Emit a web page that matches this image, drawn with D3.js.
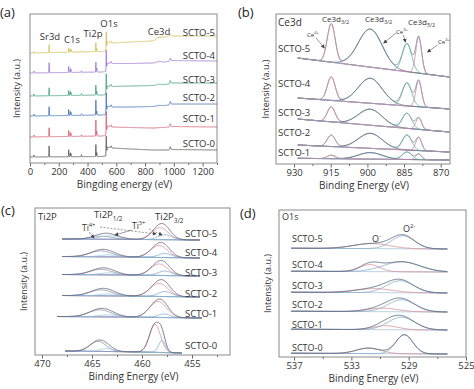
<!DOCTYPE html>
<html lang="en">
<head>
<meta charset="UTF-8" />
<title>SCTO XPS</title>
<script src="https://cdn.jsdelivr.net/npm/d3@7"></script>
<style>
  body { margin: 0; background: #fff; }
  svg { font-family: "Open Sans", sans-serif; }
</style>
</head>
<body>
<svg id="fig" width="474" height="389"></svg>
<script>
// ---------- data (intensity in arbitrary units) ----------
const samples = ["SCTO-0", "SCTO-1", "SCTO-2", "SCTO-3", "SCTO-4", "SCTO-5"];
const surveyColors = ["#555555", "#d65a6e", "#3d6fb5", "#3c9f7c", "#9d72cf", "#d5bb52"];

// (a) survey
const surveyTicks = [0, 200, 400, 600, 800, 1000, 1200];
const surveyMinor = [100, 300, 500, 700, 900, 1100, 1300];
const surveyPeakEV = [28, 133, 269, 280, 285, 358, 458, 464, 530, 564, 885, 902, 916, 975];
const surveyPeakW = [4, 3, 3, 3, 3, 4, 3, 3, 3, 6, 10, 10, 6, 8];
const surveyPeakH = [
  [2, 11, 7, 4, 3, 2, 12, 4, 18, 2, 0, 0, 0, 3],
  [2, 9, 6, 4, 3, 1.5, 16, 5, 22, 2, 0.4, 0.4, 0.3, 3],
  [2, 9, 6, 4, 3, 1.5, 15, 4, 20, 2, 0.6, 0.6, 0.4, 3],
  [2, 8, 5, 4, 3, 1.5, 10, 4, 19, 2, 0.8, 0.8, 0.5, 3],
  [2, 10, 6, 4, 3, 1.5, 10, 4, 20, 2, 1.2, 1.2, 0.8, 3],
  [1.5, 8, 4, 3, 3, 1, 9, 3, 17, 1.5, 2, 2, 1.5, 2]
];
const surveyBase = [6, 26, 47, 67, 90, 110];
const surveyBgEV = [0, 500, 528, 538, 570, 700, 850, 890, 930, 965, 985, 1300];
const surveyBg = [
  [0, 0.5, 1, 10, 9, 8, 7, 7, 7, 7, 7.5, 7],
  [0, 1, 1.5, 11, 10, 9.5, 9, 9, 9.5, 10, 10.5, 10],
  [0, 1, 1.5, 10, 9, 9, 9.5, 10, 10.5, 11, 12, 12],
  [0, 1, 1.5, 10, 9.5, 10, 10.5, 11, 11.5, 12, 13, 13],
  [0, 1, 1.5, 10, 9.5, 9.5, 10, 10.5, 11, 11.5, 12.5, 12],
  [0, 1.5, 2, 11, 10, 11, 12, 14, 16, 16.5, 17, 17]
];

// (b) Ce3d, SCTO-1 .. SCTO-5
const ce3dSamples = ["SCTO-1", "SCTO-2", "SCTO-3", "SCTO-4", "SCTO-5"];
const ce3dTicks = [930, 915, 900, 885, 870];
const ce3dMinor = [922.5, 907.5, 892.5, 877.5];
const ce3dPeakEV = [914.8, 898.8, 883.8, 879.0];
const ce3dFWHM = [3.8, 11.5, 4.5, 2.8];
const ce3dHeights = [
  [3.5, 6.5, 7.5, 5.5],
  [11.5, 15, 15, 13],
  [15, 16, 15, 11.5],
  [23.5, 25, 23, 26],
  [38.5, 38, 28, 36]
];
const ce3dBgLeft = [5.7, 19, 45, 66, 106];
const ce3dBgRight = [4, 12, 32, 55, 87];
const ce3dRange = [928.5, 866.5];

// (c) Ti2p, SCTO-0 .. SCTO-5 ; components: Ti4+ 3/2, Ti3+ 3/2, Ti4+ 1/2, Ti3+ 1/2
const ti2pTicks = [470, 465, 460, 455];
const ti2pMinor = [467.5, 462.5, 457.5, 452.5];
const ti2pCenters = [
  [458.7, 458.0, 464.4, 463.5],
  [458.4, 457.8, 464.2, 463.4],
  [458.3, 457.7, 464.1, 463.3],
  [458.3, 457.7, 464.1, 463.3],
  [458.3, 457.7, 464.1, 463.3],
  [458.2, 457.7, 464.0, 463.2]
];
const ti2pHeights = [
  [28, 12, 10, 3],
  [16, 3.5, 7, 2],
  [13, 5, 6, 2],
  [11.5, 4.5, 5.5, 2],
  [12, 4, 6, 2],
  [12, 5, 3, 3.5]
];
const ti2pFWHM = [
  [1.3, 0.8, 1.9, 1.6],
  [2.0, 1.4, 2.6, 2.2],
  [2.1, 1.6, 2.6, 2.2],
  [2.0, 1.6, 2.6, 2.2],
  [2.0, 1.6, 2.6, 2.2],
  [1.9, 1.6, 2.4, 2.4]
];
const ti2pBase = [2, 37, 58, 79, 97, 115];
const ti2pBgStep = [2, 1.5, 1.5, 1.5, 1.5, 1];
const ti2pRanges = [[467.7, 456], [468.5, 454], [468, 454.2], [468, 454.2], [468, 454.2], [468, 454.2]];

// (d) O1s, SCTO-0 .. SCTO-5 ; components: O2-, O-
const o1sTicks = [537, 533, 529, 525];
const o1sMinor = [535, 531, 527];
const o1sCenters = [[529.3, 531.8], [529.5, 530.6], [529.5, 530.8], [529.6, 531.4], [529.5, 531.7], [529.4, 531.6]];
const o1sHeights = [[19, 5.5], [12.5, 4], [12, 3.5], [12, 4], [10, 7], [13, 5]];
const o1sFWHM = [[1.4, 2.0], [2.2, 2.0], [2.2, 2.5], [2.2, 3.0], [3.0, 1.6], [1.9, 3.0]];
const o1sBase = [3, 27, 45, 64, 85, 108];
const o1sRange = [537.2, 526.3];

// ---------- helpers ----------
const svg = d3.select("#fig");
const LN = 4 * Math.LN2;
function gauss(e, c, h, w) { return h * Math.exp(-LN * (e - c) * (e - c) / (w * w)); }

const defs = svg.append("defs");
defs.append("marker").attr("id", "arr")
  .attr("viewBox", "0 0 6 6").attr("refX", 5).attr("refY", 3)
  .attr("markerWidth", 4).attr("markerHeight", 4)
  .attr("markerUnits", "userSpaceOnUse").attr("orient", "auto")
  .append("path").attr("d", "M0,0L6,3L0,6Z").attr("fill", "#444");

function rich(g, x, y, parts, fs) {
  const t = g.append("text").attr("x", x).attr("y", y)
    .attr("font-size", fs).attr("fill", "#333");
  let shift = 0;
  parts.forEach(([s, m]) => {
    const target = m === "sub" ? fs * 0.3 : m === "sup" ? -fs * 0.45 : 0;
    t.append("tspan").attr("dy", target - shift)
      .attr("font-size", m ? fs * 0.68 : fs).text(s);
    shift = target;
  });
  return t;
}

function makePanel(p) {
  const g = svg.append("g");
  const x = d3.scaleLinear().domain(p.domain).range([p.left, p.right]);
  const y = d3.scaleLinear().domain([0, p.bottom - p.top]).range([p.bottom, p.top]);

  // minor ticks, no labels
  g.append("g").attr("transform", `translate(0,${p.bottom})`)
    .call(d3.axisBottom(x).tickValues(p.minor).tickSize(2).tickFormat(""))
    .call(a => a.select(".domain").remove())
    .call(a => a.selectAll("text").remove())
    .call(a => a.selectAll("line").attr("stroke", "#666"));
  g.append("g").attr("transform", `translate(0,${p.bottom})`)
    .call(d3.axisBottom(x).tickValues(p.ticks).tickSize(3.5).tickPadding(2).tickFormat(d3.format("d")))
    .call(a => a.select(".domain").remove())
    .call(a => a.selectAll("line").attr("stroke", "#666"))
    .call(a => a.selectAll("text").attr("font-size", 9.5)
      .attr("fill", "#333").attr("font-family", "Open Sans"));

  g.append("rect").attr("x", p.left).attr("y", p.top)
    .attr("width", p.right - p.left).attr("height", p.bottom - p.top)
    .attr("fill", "none").attr("stroke", "#8a8a8a").attr("stroke-width", 1);

  g.append("text").attr("x", (p.left + p.right) / 2 + 1).attr("y", p.bottom + 25)
    .attr("text-anchor", "middle").attr("font-size", 10).attr("fill", "#333")
    .text(p.title);
  g.append("text")
    .attr("transform", `translate(${p.ylabX},${(p.top + p.bottom) / 2}) rotate(-90)`)
    .attr("text-anchor", "middle").attr("font-size", 9).attr("fill", "#333")
    .text("Intensity (a.u.)");
  g.append("text").attr("x", p.letterX).attr("y", p.letterY)
    .attr("font-size", 13).attr("fill", "#222").text(p.letter);
  return { g, x, y };
}

function drawCurve(P, grid, fn, color, width) {
  P.g.append("path").datum(grid)
    .attr("fill", "none").attr("stroke", color)
    .attr("stroke-width", width || 0.8).attr("stroke-linejoin", "round")
    .attr("d", d3.line().x(e => P.x(e)).y(e => P.y(fn(e))));
}

function arrow(P, e0, u0, e1, u1, dashed) {
  P.g.append("line")
    .attr("x1", P.x(e0)).attr("y1", P.y(u0)).attr("x2", P.x(e1)).attr("y2", P.y(u1))
    .attr("stroke", "#555").attr("stroke-width", 0.6)
    .attr("stroke-dasharray", dashed ? "2,1.5" : null)
    .attr("marker-end", "url(#arr)");
}

// ---------- (a) survey ----------
const A = makePanel({
  left: 30, right: 217, top: 14, bottom: 163, domain: [0, 1300],
  ticks: surveyTicks, minor: surveyMinor, title: "Bingding energy (eV)",
  ylabX: 20, letter: "(a)", letterX: 0, letterY: 17
});
const surveyGrid = d3.range(0, 1300.5, 1);
samples.forEach((s, i) => {
  const bg = d3.scaleLinear().domain(surveyBgEV).range(surveyBg[i].map(v => v + surveyBase[i]));
  drawCurve(A, surveyGrid,
    e => bg(e) + d3.sum(surveyPeakEV, (c, k) => gauss(e, c, surveyPeakH[i][k], surveyPeakW[k])),
    surveyColors[i], 0.8);
});
const surveyLabelY = [147, 122, 101, 83, 59, 36];
samples.forEach((s, i) => {
  A.g.append("text").attr("x", 215).attr("y", surveyLabelY[i])
    .attr("text-anchor", "end").attr("font-size", 9.5).attr("fill", "#333").text(s);
});
[["Sr3d", 50, 40], ["C1s", 72, 43], ["Ti2p", 93, 37], ["O1s", 109, 27], ["Ce3d", 159, 35]]
  .forEach(([t, x, y]) => {
    A.g.append("text").attr("x", x).attr("y", y).attr("text-anchor", "middle")
      .attr("font-size", 9.5).attr("fill", "#333").text(t);
  });

// ---------- (b) Ce3d ----------
const B = makePanel({
  left: 276, right: 450, top: 14, bottom: 164, domain: [937.4, 866.2],
  ticks: ce3dTicks, minor: ce3dMinor, title: "Binding Energy (eV)",
  ylabX: 269, letter: "(b)", letterX: 238, letterY: 17
});
const ceGrid = d3.range(ce3dRange[1], ce3dRange[0] + 0.01, 0.25);
const ceColors = ["#d88a9c", "#52708a", "#5fb4a4", "#c68cb4"];
ce3dSamples.forEach((s, i) => {
  const bg = d3.scaleLinear().domain(ce3dRange).range([ce3dBgLeft[i], ce3dBgRight[i]]);
  drawCurve(B, ceGrid,
    e => bg(e) + d3.sum(ce3dPeakEV, (c, k) => gauss(e, c, ce3dHeights[i][k], ce3dFWHM[k])),
    "#6b7a8c", 0.7);
  drawCurve(B, ceGrid, e => bg(e), "#7282b6", 0.8);
  ce3dPeakEV.forEach((c, k) => {
    drawCurve(B, ceGrid, e => bg(e) + gauss(e, c, ce3dHeights[i][k], ce3dFWHM[k]), ceColors[k], 0.8);
  });
});
const ceLabelY = [156, 136, 116, 87, 52];
ce3dSamples.forEach((s, i) => {
  B.g.append("text").attr("x", 278).attr("y", ceLabelY[i])
    .attr("font-size", 9.5).attr("fill", "#333").text(s);
});
B.g.append("text").attr("x", 278).attr("y", 26).attr("font-size", 10).attr("fill", "#333").text("Ce3d");
rich(B.g, 322, 22, [["Ce3d", ""], ["3/2", "sub"]], 8);
rich(B.g, 365, 22, [["Ce3d", ""], ["3/2", "sub"]], 8);
rich(B.g, 408, 25, [["Ce3d", ""], ["5/2", "sub"]], 8);
rich(B.g, 307, 37, [["Ce", ""], ["4+", "sup"]], 6);
rich(B.g, 396, 34, [["Ce", ""], ["3+", "sup"]], 6);
rich(B.g, 438, 44, [["Ce", ""], ["4+", "sup"]], 6);
arrow(B, 921.0, 126, 917.6, 116);
arrow(B, 888.3, 131, 893.3, 121);
arrow(B, 885.3, 129, 884.4, 122);
arrow(B, 871.3, 119, 875.4, 112);

// ---------- (c) Ti2p ----------
const C = makePanel({
  left: 35, right: 230, top: 208, bottom: 355, domain: [470.7, 451.2],
  ticks: ti2pTicks, minor: ti2pMinor, title: "Binding Energy (eV)",
  ylabX: 27, letter: "(c)", letterX: 1, letterY: 215
});
const tiColors = ["#d9838f", "#6a9fd4", "#6d8797", "#8cc0dc"];
samples.forEach((s, i) => {
  const r = ti2pRanges[i];
  const grid = d3.range(r[1], r[0] + 0.01, 0.05);
  const bg = d3.scaleLinear().domain([r[0], 461, r[1]])
    .range([ti2pBase[i] + ti2pBgStep[i], ti2pBase[i] + ti2pBgStep[i] * 0.6, ti2pBase[i]]);
  drawCurve(C, grid, e => bg(e), "#8a9cc0", 0.8);
  ti2pCenters[i].forEach((c, k) => {
    drawCurve(C, grid, e => bg(e) + gauss(e, c, ti2pHeights[i][k], ti2pFWHM[i][k]), tiColors[k], 0.7);
  });
  drawCurve(C, grid,
    e => bg(e) + d3.sum(ti2pCenters[i], (c, k) => gauss(e, c, ti2pHeights[i][k], ti2pFWHM[i][k])),
    "#665a78", 0.8);
});
const tiLabelY = [348.5, 316.5, 296.5, 275.5, 255.5, 236.5];
samples.forEach((s, i) => {
  C.g.append("text").attr("x", 185).attr("y", tiLabelY[i])
    .attr("font-size", 9.5).attr("fill", "#333").text(s);
});
C.g.append("text").attr("x", 38).attr("y", 220).attr("font-size", 9.5).attr("fill", "#333").text("Ti2P");
rich(C.g, 94, 218, [["Ti2P", ""], ["1/2", "sub"]], 9.5);
rich(C.g, 155, 220, [["Ti2P", ""], ["3/2", "sub"]], 9.5);
rich(C.g, 82, 231, [["Ti", ""], ["4+", "sup"]], 8.5);
rich(C.g, 132, 229, [["Ti", ""], ["3+", "sup"]], 8.5);
arrow(C, 465.3, 123, 464.8, 117);
arrow(C, 464.2, 128, 458.6, 121, true);
arrow(C, 461.0, 125, 462.7, 120);
arrow(C, 459.3, 126, 458.0, 120, true);

// ---------- (d) O1s ----------
const D = makePanel({
  left: 279, right: 466, top: 210, bottom: 357, domain: [538.05, 525],
  ticks: o1sTicks, minor: o1sMinor, title: "Binding Energy (eV)",
  ylabX: 271, letter: "(d)", letterX: 240, letterY: 218
});
const oGrid = d3.range(o1sRange[1], o1sRange[0] + 0.01, 0.05);
samples.forEach((s, i) => {
  const bg = d3.scaleLinear().domain(o1sRange).range([o1sBase[i] + 0.8, o1sBase[i]]);
  drawCurve(D, oGrid, e => bg(e), "#9cbfd6", 0.8);
  drawCurve(D, oGrid, e => bg(e) + gauss(e, o1sCenters[i][1], o1sHeights[i][1], o1sFWHM[i][1]), "#d58a96", 0.8);
  drawCurve(D, oGrid, e => bg(e) + gauss(e, o1sCenters[i][0], o1sHeights[i][0], o1sFWHM[i][0]), "#86a8c8", 0.8);
  drawCurve(D, oGrid,
    e => bg(e) + d3.sum(o1sCenters[i], (c, k) => gauss(e, c, o1sHeights[i][k], o1sFWHM[i][k])),
    "#4a5f78", 0.8);
});
const oLabelY = [351, 327.5, 308, 289, 268, 242];
samples.forEach((s, i) => {
  D.g.append("text").attr("x", 292).attr("y", oLabelY[i])
    .attr("font-size", 9).attr("fill", "#333").text(s);
});
D.g.append("text").attr("x", 282).attr("y", 220).attr("font-size", 9).attr("fill", "#333").text("O1s");
rich(D.g, 372, 242, [["O", ""], ["-", "sup"]], 9);
rich(D.g, 403, 232, [["O", ""], ["2-", "sup"]], 9);
</script>
</body>
</html>
